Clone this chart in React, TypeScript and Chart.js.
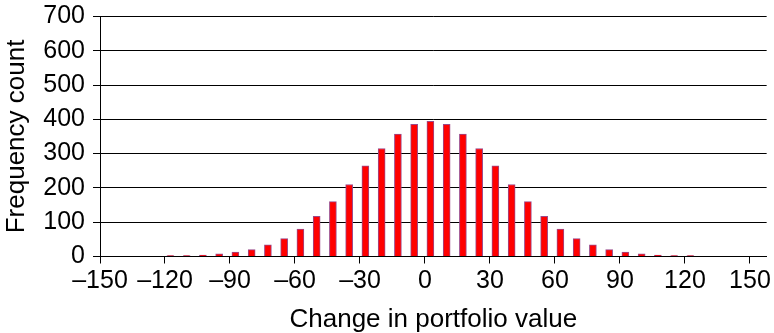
import React, { useEffect, useRef } from "react";
import { Chart, registerables } from "chart.js";

Chart.register(...registerables);

// Bin centres (change in portfolio value) and frequency counts
const binCenters: number[] = [
  -117.5, -110, -102.5, -95, -87.5, -80, -72.5, -65, -57.5, -50, -42.5, -35, -27.5, -20, -12.5, -5,
  2.5, 10, 17.5, 25, 32.5, 40, 47.5, 55, 62.5, 70, 77.5, 85, 92.5, 100, 107.5, 115, 122.5,
];
const counts: number[] = [
  3, 3, 4, 8, 13, 20, 34, 52, 80, 117, 160, 210, 264, 315, 357, 385,
  394, 385, 357, 315, 264, 210, 160, 117, 80, 52, 34, 20, 13, 8, 4, 3, 3,
];
const xTickValues: number[] = [-150, -120, -90, -60, -30, 0, 30, 60, 90, 120, 150];
const yTickValues: number[] = [0, 100, 200, 300, 400, 500, 600, 700];
const xTitle = "Change in portfolio value";
const yTitle = "Frequency count";

const FONT = "'Liberation Sans', Arial, Helvetica, sans-serif";

export default function App() {
  const ref = useRef<HTMLCanvasElement | null>(null);

  useEffect(() => {
    document.body.style.margin = "0";
    const canvas = ref.current;
    if (!canvas) return;
    const chart = new Chart(canvas, {
      type: "bar",
      data: {
        datasets: [
          {
            data: binCenters.map((x, i) => ({ x, y: counts[i] })),
            backgroundColor: "#ff0000",
            borderColor: "#9a4a8a",
            borderWidth: 1,
            barThickness: 7,
          },
        ],
      },
      options: {
        animation: false,
        responsive: false,
        maintainAspectRatio: false,
        layout: { padding: { top: 0, right: 7, left: 0, bottom: 0 } },
        plugins: { legend: { display: false }, tooltip: { enabled: false } },
        scales: {
          x: {
            type: "linear",
            offset: false,
            min: -150,
            max: 157.7,
            afterBuildTicks: (s: any) => {
              s.ticks = xTickValues.map((v) => ({ value: v }));
            },
            afterFit: (s: any) => {
              s.height = 76.5;
            },
            ticks: {
              includeBounds: false,
              stepSize: 30,
              padding: 3,
              color: "#000",
              font: { family: FONT, size: 25, lineHeight: 1.2 },
              callback: (v: any) => (Number(v) < 0 ? "\u2013" + Math.abs(Number(v)) : String(v)),
              maxRotation: 0,
              autoSkip: false,
            },
            grid: {
              display: true,
              offset: false,
              drawOnChartArea: false,
              drawTicks: true,
              tickLength: 7,
              color: "#000",
              lineWidth: 1,
            },
            border: { display: true, color: "#000", width: 1 },
            title: {
              display: true,
              text: xTitle,
              color: "#000",
              font: { family: FONT, size: 26, lineHeight: 1.0 },
              padding: { top: 0, bottom: 0 },
            },
          },
          y: {
            type: "linear",
            min: 0,
            max: 700,
            afterBuildTicks: (s: any) => {
              s.ticks = yTickValues.map((v) => ({ value: v }));
            },
            afterFit: (s: any) => {
              s.width = 100;
              s.paddingTop = 16.4;
              s.paddingBottom = 0;
            },
            ticks: {
              stepSize: 100,
              padding: 8,
              color: "#000",
              font: { family: FONT, size: 25, lineHeight: 1.2 },
            },
            grid: {
              display: true,
              drawOnChartArea: true,
              drawTicks: true,
              tickLength: 7,
              color: "#000",
              lineWidth: 1,
            },
            border: { display: true, color: "#000", width: 1 },
            title: {
              display: true,
              text: yTitle,
              color: "#000",
              font: { family: FONT, size: 26, lineHeight: 1.2 },
              padding: { top: 1, bottom: 0 },
            },
          },
        },
      },
    } as any);
    return () => chart.destroy();
  }, []);

  return (
    <div style={{ width: 774, height: 333, background: "#fff" }}>
      <canvas ref={ref} width={774} height={333} style={{ display: "block" }} />
    </div>
  );
}
